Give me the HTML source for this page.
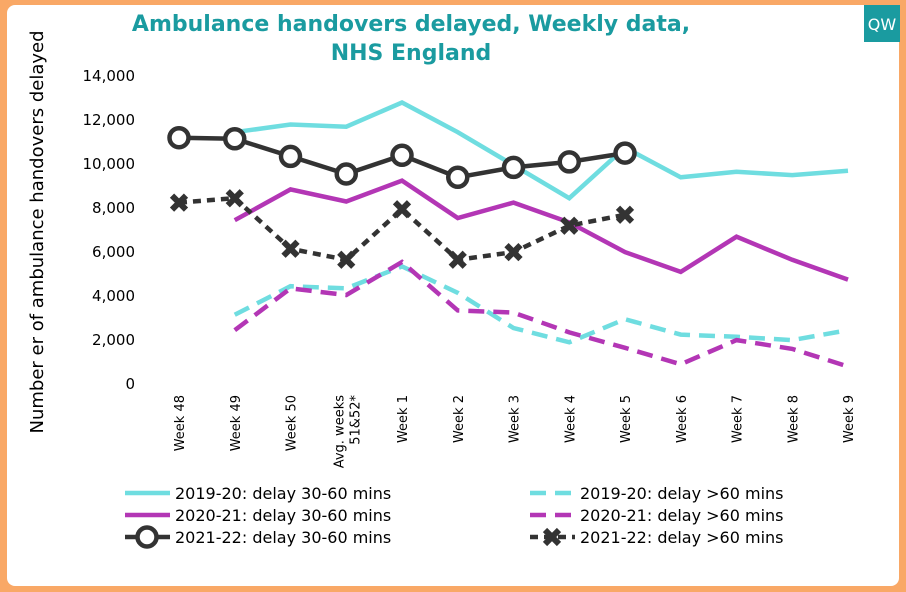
<!DOCTYPE html>
<html><head><meta charset="utf-8">
<style>
body{margin:0;width:906px;height:592px;background:#f9a866;font-family:"DejaVu Sans","Liberation Sans",sans-serif;overflow:hidden}
#card{position:absolute;left:7px;top:5px;width:892px;height:581px;background:#fff;border-radius:8px}
</style></head><body>
<div id="card"></div>
<svg id="chart" width="906" height="592" style="position:absolute;left:0;top:0;font-family:'DejaVu Sans','Liberation Sans',sans-serif">
<rect x="864" y="5" width="36" height="37" fill="#1a9ba0"/>
<text x="882" y="30" fill="#fff" font-size="16" text-anchor="middle">QW</text>
<text x="411" y="31" fill="#1a9ba0" font-size="22" font-weight="bold" text-anchor="middle">Ambulance handovers delayed, Weekly data,</text>
<text x="411" y="60" fill="#1a9ba0" font-size="22" font-weight="bold" text-anchor="middle">NHS England</text>
<text transform="translate(43,232) rotate(-90)" font-size="18" text-anchor="middle" fill="#000">Number er of ambulance handovers delayed</text>
<g id="g"></g>
</svg>
<script>
const categories=["Week 48","Week 49","Week 50","Avg. weeks|51&52*","Week 1","Week 2","Week 3","Week 4","Week 5","Week 6","Week 7","Week 8","Week 9"];
const yTicks=[0,2000,4000,6000,8000,10000,12000,14000];
const s1930=[null,11400,11750,11650,12750,11400,9900,8400,10700,9350,9600,9450,9650];
const s1960=[null,3100,4400,4300,5300,4100,2500,1850,2900,2200,2100,1950,2400];
const s2030=[null,7400,8800,8250,9200,7500,8200,7300,5950,5050,6650,5600,4700];
const s2060=[null,2400,4300,4000,5500,3300,3200,2300,1600,850,1950,1550,750];
const s2130=[11150,11100,10300,9500,10350,9350,9800,10050,10450];
const s2160=[8200,8400,6100,5600,7900,5600,5950,7150,7650];
const NS="http://www.w3.org/2000/svg";
const g=document.getElementById('g');
const x=i=>179+i*55.75;
const y=v=>383-v*0.022;
function el(t,a,p){const e=document.createElementNS(NS,t);for(const k in a)e.setAttribute(k,a[k]);(p||g).appendChild(e);return e;}
yTicks.forEach(v=>{const t=el('text',{x:135,y:y(v)+6,'font-size':15,'text-anchor':'end'});t.textContent=v.toLocaleString('en-US');

});
categories.forEach((c,i)=>{const parts=c.split('|');parts.forEach((p,j)=>{const xx=x(i)+5+(j-(parts.length-1)/2)*16*(parts.length>1?1:0);const t=el('text',{x:0,y:0,'font-size':13,'text-anchor':'end',transform:`translate(${xx},395) rotate(-90)`});t.textContent=p;

});});
function path(d,col,dash,name){let s='';d.forEach((v,i)=>{if(v==null)return;s+=(s?'L':'M')+x(i)+','+y(v);});const p=el('path',{d:s,fill:'none',stroke:col,'stroke-width':4.5,'stroke-dasharray':dash||'none'});

}
path(s1930,'#6fdde0','', 'line-2019-20-30-60');
path(s1960,'#6fdde0','16,9','line-2019-20-over-60');
path(s2030,'#b336b5','', 'line-2020-21-30-60');
path(s2060,'#b336b5','16,9','line-2020-21-over-60');
path(s2130,'#333','', 'line-2021-22-30-60');
path(s2160,'#333','8,6','line-2021-22-over-60');
function circ(cx,cy){const c=el('circle',{cx,cy,r:9.5,fill:'#fff',stroke:'#333','stroke-width':4.5});

}
function cross(cx,cy){const p=el('path',{d:`M${cx-7},${cy-7}L${cx+7},${cy+7}M${cx+7},${cy-7}L${cx-7},${cy+7}`,stroke:'#333','stroke-width':6});

}
s2130.forEach((v,i)=>circ(x(i),y(v)));
s2160.forEach((v,i)=>cross(x(i),y(v)));
const leg=[["2019-20: delay 30-60 mins",'#6fdde0','',125,493],["2019-20: delay >60 mins",'#6fdde0','16,9',530,493],
["2020-21: delay 30-60 mins",'#b336b5','',125,515],["2020-21: delay >60 mins",'#b336b5','16,9',530,515],
["2021-22: delay 30-60 mins",'#333','',125,537],["2021-22: delay >60 mins",'#333','8,6',530,537]];
leg.forEach((l,i)=>{const ln=el('line',{x1:l[3],y1:l[4],x2:l[3]+45,y2:l[4],stroke:l[1],'stroke-width':4.5,'stroke-dasharray':l[2]||'none'});


if(i==4)circ(l[3]+22,l[4]);if(i==5)cross(l[3]+22,l[4]);
const t=el('text',{x:l[3]+50,y:l[4]+6,'font-size':16});t.textContent=l[0];

});
</script>
</body></html>
